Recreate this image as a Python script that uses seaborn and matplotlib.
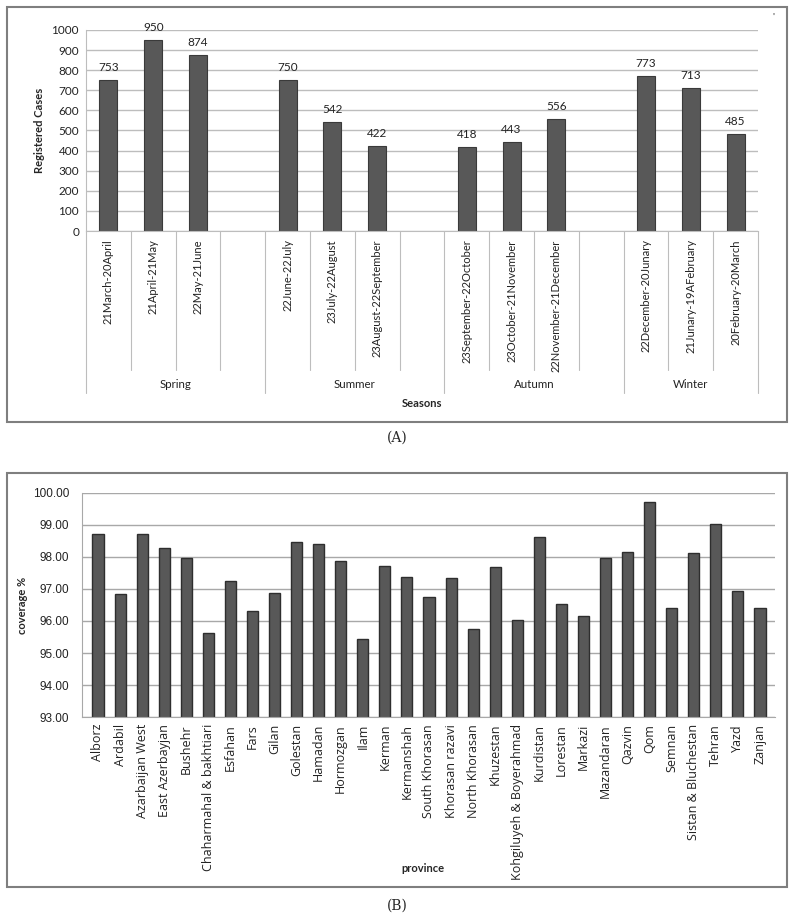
import matplotlib
matplotlib.use("Agg")
import matplotlib.pyplot as plt
import matplotlib.transforms as mtransforms
from matplotlib.patches import Rectangle
import seaborn as sns
import pandas as pd

# ---- data: panel A (registered cases by month) ----
months = ["21March-20April", "21April-21May", "22May-21June",
          "22June-22July", "23July-22August", "23August-22September",
          "23September-22October", "23October-21November", "22November-21December",
          "22December-20Junary", "21Junary-19AFebruary", "20February-20March"]
cases = [753, 950, 874, 750, 542, 422, 418, 443, 556, 773, 713, 485]
seasons = ["Spring", "Summer", "Autumn", "Winter"]
month_season = ["Spring"] * 3 + ["Summer"] * 3 + ["Autumn"] * 3 + ["Winter"] * 3

# ---- data: panel B (coverage % by province) ----
provinces = ["Alborz", "Ardabil", "Azarbaijan West", "East Azerbayjan", "Bushehr",
             "Chaharmahal & bakhtiari", "Esfahan", "Fars", "Gilan", "Golestan",
             "Hamadan", "Hormozgan", "Ilam", "Kerman", "Kermanshah", "South Khorasan",
             "Khorasan razavi", "North Khorasan", "Khuzestan", "Kohgiluyeh & Boyerahmad",
             "Kurdistan", "Lorestan", "Markazi", "Mazandaran", "Qazvin", "Qom",
             "Semnan", "Sistan & Bluchestan", "Tehran", "Yazd", "Zanjan"]
coverage = [98.71, 96.83, 98.71, 98.28, 97.97, 95.64, 97.24, 96.30, 96.88, 98.47,
            98.42, 97.86, 95.44, 97.71, 97.37, 96.74, 97.33, 95.76, 97.69, 96.04,
            98.64, 96.52, 96.17, 97.98, 98.17, 99.71, 96.40, 98.13, 99.04, 96.95,
            96.40]

sns.set_style("white")
plt.rcParams["font.family"] = ["Lato", "DejaVu Sans"]

W, H = 794, 921
fig = plt.figure(figsize=(W / 100, H / 100), dpi=100)

def px_axes(x0, y0, x1, y1):
    return fig.add_axes([x0 / W, 1 - y1 / H, (x1 - x0) / W, (y1 - y0) / H])

# frames around each panel
for (x0, y0, x1, y1) in [(7, 7, 787, 422), (7, 473, 787, 887)]:
    fig.patches.append(Rectangle((x0 / W, 1 - y1 / H), (x1 - x0) / W, (y1 - y0) / H,
                                 transform=fig.transFigure, fill=False,
                                 edgecolor="#7f7f7f", linewidth=1.5))

grid_c = "#bdbdbd"
bar_c = "#585858"

# ================= panel A =================
# slot order with empty gaps between seasons
order, slot_labels = [], []
gap = 0
for i, s in enumerate(seasons):
    for m, ms in zip(months, month_season):
        if ms == s:
            order.append(m)
            slot_labels.append(m)
    if i < len(seasons) - 1:
        gap += 1
        order.append("gap%d" % gap)
        slot_labels.append("")

df_a = pd.DataFrame({"month": months, "cases": cases})
ax1 = px_axes(86, 30, 758, 231)
sns.barplot(data=df_a, x="month", y="cases", order=order, color=bar_c,
            width=0.4, edgecolor="#3a3a3a", linewidth=0.8, saturation=1, ax=ax1)
ax1.set_xlim(-0.5, len(order) - 0.5)
ax1.set_ylim(0, 1000)
ax1.set_yticks(range(0, 1001, 100))
ax1.yaxis.grid(True, color=grid_c, linewidth=1)
ax1.set_axisbelow(True)
ax1.tick_params(axis="y", labelsize=8.5, length=3, color=grid_c, pad=2, labelcolor="#222222")
ax1.set_xticks(range(len(order)))
ax1.set_xticklabels(slot_labels, rotation=90, fontsize=8.0, color="#222222")
ax1.tick_params(axis="x", length=0, pad=6)
for sp in ["top", "right"]:
    ax1.spines[sp].set_visible(False)
for sp in ["left", "bottom"]:
    ax1.spines[sp].set_color(grid_c)
ax1.set_xlabel("")
ax1.set_ylabel("Registered Cases", fontsize=8, fontweight="bold", labelpad=5)

for p, v in zip(ax1.patches, [cases[months.index(o)] for o in order if o in months]):
    ax1.annotate(str(v), (p.get_x() + p.get_width() / 2, v), xytext=(0, 5),
                 textcoords="offset points", ha="center", va="bottom", fontsize=8.5,
                 color="#222222")

# category table below the axis
trans = mtransforms.blended_transform_factory(ax1.transData, ax1.transAxes)
season_bounds = [-0.5]
pos = -0.5
for i, s in enumerate(seasons):
    n = month_season.count(s) + (1 if i < len(seasons) - 1 else 0)
    for k in range(1, n):
        ax1.plot([pos + k, pos + k], [0, -0.6915], transform=trans, color=grid_c,
                 linewidth=0.8, clip_on=False)
    ax1.text(pos + n / 2, -0.766, s, transform=trans, ha="center", va="center",
             fontsize=8.3, color="#222222")
    pos += n
    season_bounds.append(pos)
for b in season_bounds:
    ax1.plot([b, b], [0, -0.806], transform=trans, color=grid_c, linewidth=0.8,
             clip_on=False)
ax1.text(0.5, -0.856, "Seasons", transform=ax1.transAxes, ha="center", va="center",
         fontsize=8, fontweight="bold")

# ================= panel B =================
df_b = pd.DataFrame({"province": provinces, "coverage": coverage})
ax2 = px_axes(82, 493, 775, 717)
sns.barplot(data=df_b, x="province", y="coverage", color=bar_c, width=0.5,
            edgecolor="#2e2e2e", linewidth=1.0, saturation=1, ax=ax2)
ax2.set_xlim(-0.725, len(provinces) - 1 + 0.68)
ax2.set_ylim(93, 100)
ax2.set_yticks(range(93, 101))
ax2.set_yticklabels(["%.2f" % v for v in range(93, 101)],
                    family=["Liberation Sans", "DejaVu Sans"])
ax2.yaxis.grid(True, color="#a8a8a8", linewidth=1)
ax2.set_axisbelow(True)
ax2.tick_params(axis="y", labelsize=8.5, length=0, pad=9, labelcolor="#222222")
ax2.set_xticks(range(len(provinces)))
ax2.set_xticklabels(provinces, rotation=90, fontsize=9,
                    family=["Open Sans", "DejaVu Sans"], color="#222222")
ax2.tick_params(axis="x", length=0, pad=5)
for sp in ["top", "right"]:
    ax2.spines[sp].set_visible(False)
for sp in ["left", "bottom"]:
    ax2.spines[sp].set_color("#a8a8a8")
ax2.set_xlabel("")
ax2.set_ylabel("coverage %", fontsize=8, fontweight="bold", labelpad=4)
fig.text(423 / W, 1 - 868 / H, "province", ha="center", va="center", fontsize=8,
         fontweight="bold")

# captions
for lab, y in [("(A)", 438), ("(B)", 906)]:
    fig.text(397 / W, 1 - y / H, lab, ha="center", va="center", fontsize=10,
             family=["DejaVu Serif"])
fig.text(773 / W, 1 - 17 / H, "'", ha="center", va="center", fontsize=7)

fig.savefig("out.png", dpi=100)
